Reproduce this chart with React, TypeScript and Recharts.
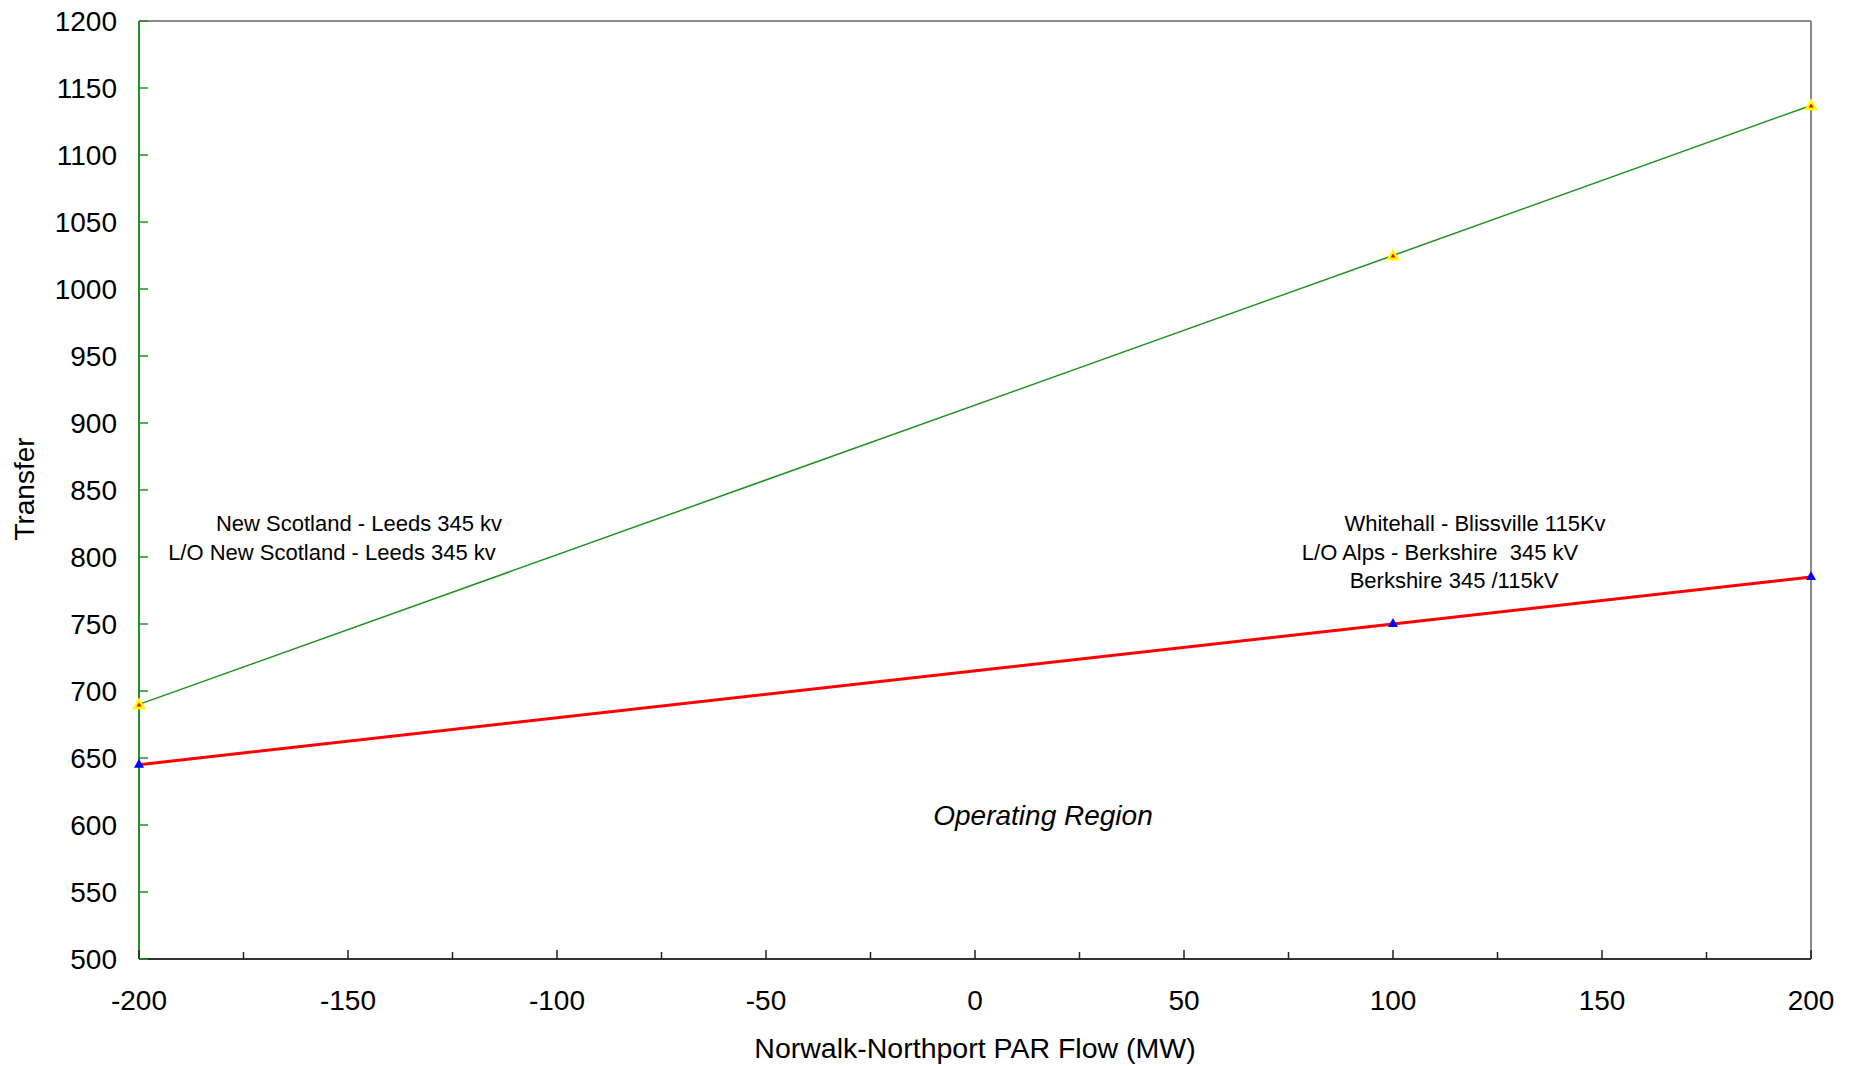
import React from "react";
import {
  LineChart,
  Line,
  XAxis,
  YAxis,
  ReferenceLine,
} from "recharts";

// flow points (MW) and transfer limits
const parFlow = [-200, 100, 200];
const newScotlandLeeds = [690, 1025, 1137];
const whitehallBlissville = [645, 750, 785];

const xMajorTicks = [-200, -150, -100, -50, 0, 50, 100, 150, 200];
const xMinorTicks = [-175, -125, -75, -25, 25, 75, 125, 175];
const yTicks = [500, 550, 600, 650, 700, 750, 800, 850, 900, 950, 1000, 1050, 1100, 1150, 1200];

const data = parFlow.map((flow, i) => ({
  flow,
  green: newScotlandLeeds[i],
  red: whitehallBlissville[i],
}));

const W = 1858;
const H = 1066;
const FONT = '"Liberation Sans", Arial, Helvetica, sans-serif';
const TM = 10;
const GREEN = "#229122";

const XTick = (props: any) => {
  const { x, y, payload } = props;
  const v = payload.value;
  const axisY = y - TM;
  const major = v % 50 === 0;
  return (
    <g>
      <line x1={x} x2={x} y1={axisY} y2={axisY - (major ? 9 : 7)} stroke="#222" strokeWidth={1.5} />
      {major && (
        <text x={x} y={axisY + 41} textAnchor="middle" dominantBaseline="central" fontSize={28} fill="#000" fontFamily={FONT}>
          {v}
        </text>
      )}
    </g>
  );
};

const YTick = (props: any) => {
  const { x, y, payload } = props;
  const axisX = x + TM;
  return (
    <g>
      <line x1={axisX} x2={axisX + 9} y1={y} y2={y} stroke={GREEN} strokeWidth={1.5} />
      <text x={axisX - 22} y={y} textAnchor="end" dominantBaseline="central" fontSize={28} fill="#000" fontFamily={FONT}>
        {payload.value}
      </text>
    </g>
  );
};

const YellowMarker = (props: any) => {
  const { cx, cy, index } = props;
  return (
    <g key={`g${index}`}>
      <polygon points={`${cx},${cy - 7} ${cx - 7},${cy + 5} ${cx + 7},${cy + 5}`} fill="#ffff00" />
      <polygon points={`${cx},${cy - 2} ${cx - 2.5},${cy + 2} ${cx + 2.5},${cy + 2}`} fill="#ff0000" />
    </g>
  );
};

const BlueMarker = (props: any) => {
  const { cx, cy, index } = props;
  return (
    <polygon key={`b${index}`} points={`${cx},${cy - 6} ${cx - 5},${cy + 3} ${cx + 5},${cy + 3}`} fill="#0000ff" />
  );
};

const txt = { fontFamily: FONT, fill: "#000" } as const;

export default function App() {
  return (
    <div style={{ position: "absolute", left: 0, top: 0, width: W, height: H, background: "#fff" }}>
      <LineChart width={W} height={H} data={data} margin={{ top: 21, right: 47, left: 0, bottom: 0 }}>
        <XAxis
          dataKey="flow"
          type="number"
          domain={[-200, 200]}
          ticks={[...xMajorTicks, ...xMinorTicks].sort((a, b) => a - b)}
          interval={0}
          height={107}
          tickSize={0}
          tickMargin={TM}
          tickLine={false}
          tick={<XTick />}
          axisLine={{ stroke: "#333", strokeWidth: 2 }}
        />
        <YAxis
          type="number"
          domain={[500, 1200]}
          ticks={yTicks}
          interval={0}
          width={139}
          tickSize={0}
          tickMargin={TM}
          tickLine={false}
          tick={<YTick />}
          axisLine={{ stroke: GREEN, strokeWidth: 2 }}
        />
        <ReferenceLine y={1200} stroke="#8a8a8a" strokeWidth={2} />
        <ReferenceLine x={200} stroke="#8a8a8a" strokeWidth={2} />
        <Line
          dataKey="red"
          stroke="#ff0000"
          strokeWidth={3}
          dot={<BlueMarker />}
          activeDot={false}
          isAnimationActive={false}
        />
        <Line
          dataKey="green"
          stroke={GREEN}
          strokeWidth={1.5}
          dot={<YellowMarker />}
          activeDot={false}
          isAnimationActive={false}
        />
      </LineChart>
      <svg width={W} height={H} style={{ position: "absolute", left: 0, top: 0, pointerEvents: "none" }}>
        <text x={24} y={489} transform="rotate(-90 24 489)" textAnchor="middle" dominantBaseline="central" fontSize={28} {...txt}>
          Transfer
        </text>
        <text x={975} y={1048} textAnchor="middle" dominantBaseline="central" fontSize={28.5} {...txt}>
          Norwalk-Northport PAR Flow (MW)
        </text>
        <text x={359} y={523} textAnchor="middle" dominantBaseline="central" fontSize={22} {...txt}>
          New Scotland - Leeds 345 kv
        </text>
        <text x={332} y={552} textAnchor="middle" dominantBaseline="central" fontSize={22} {...txt}>
          L/O New Scotland - Leeds 345 kv
        </text>
        <text x={1475} y={523} textAnchor="middle" dominantBaseline="central" fontSize={22} {...txt}>
          Whitehall - Blissville 115Kv
        </text>
        <text x={1440} y={552} textAnchor="middle" dominantBaseline="central" fontSize={22} {...txt} style={{ whiteSpace: "pre" }}>
          L/O Alps - Berkshire  345 kV
        </text>
        <text x={1454} y={580} textAnchor="middle" dominantBaseline="central" fontSize={22} {...txt}>
          Berkshire 345 /115kV
        </text>
        <text x={1043} y={815} textAnchor="middle" dominantBaseline="central" fontSize={28} fontStyle="italic" {...txt}>
          Operating Region
        </text>
      </svg>
    </div>
  );
}
